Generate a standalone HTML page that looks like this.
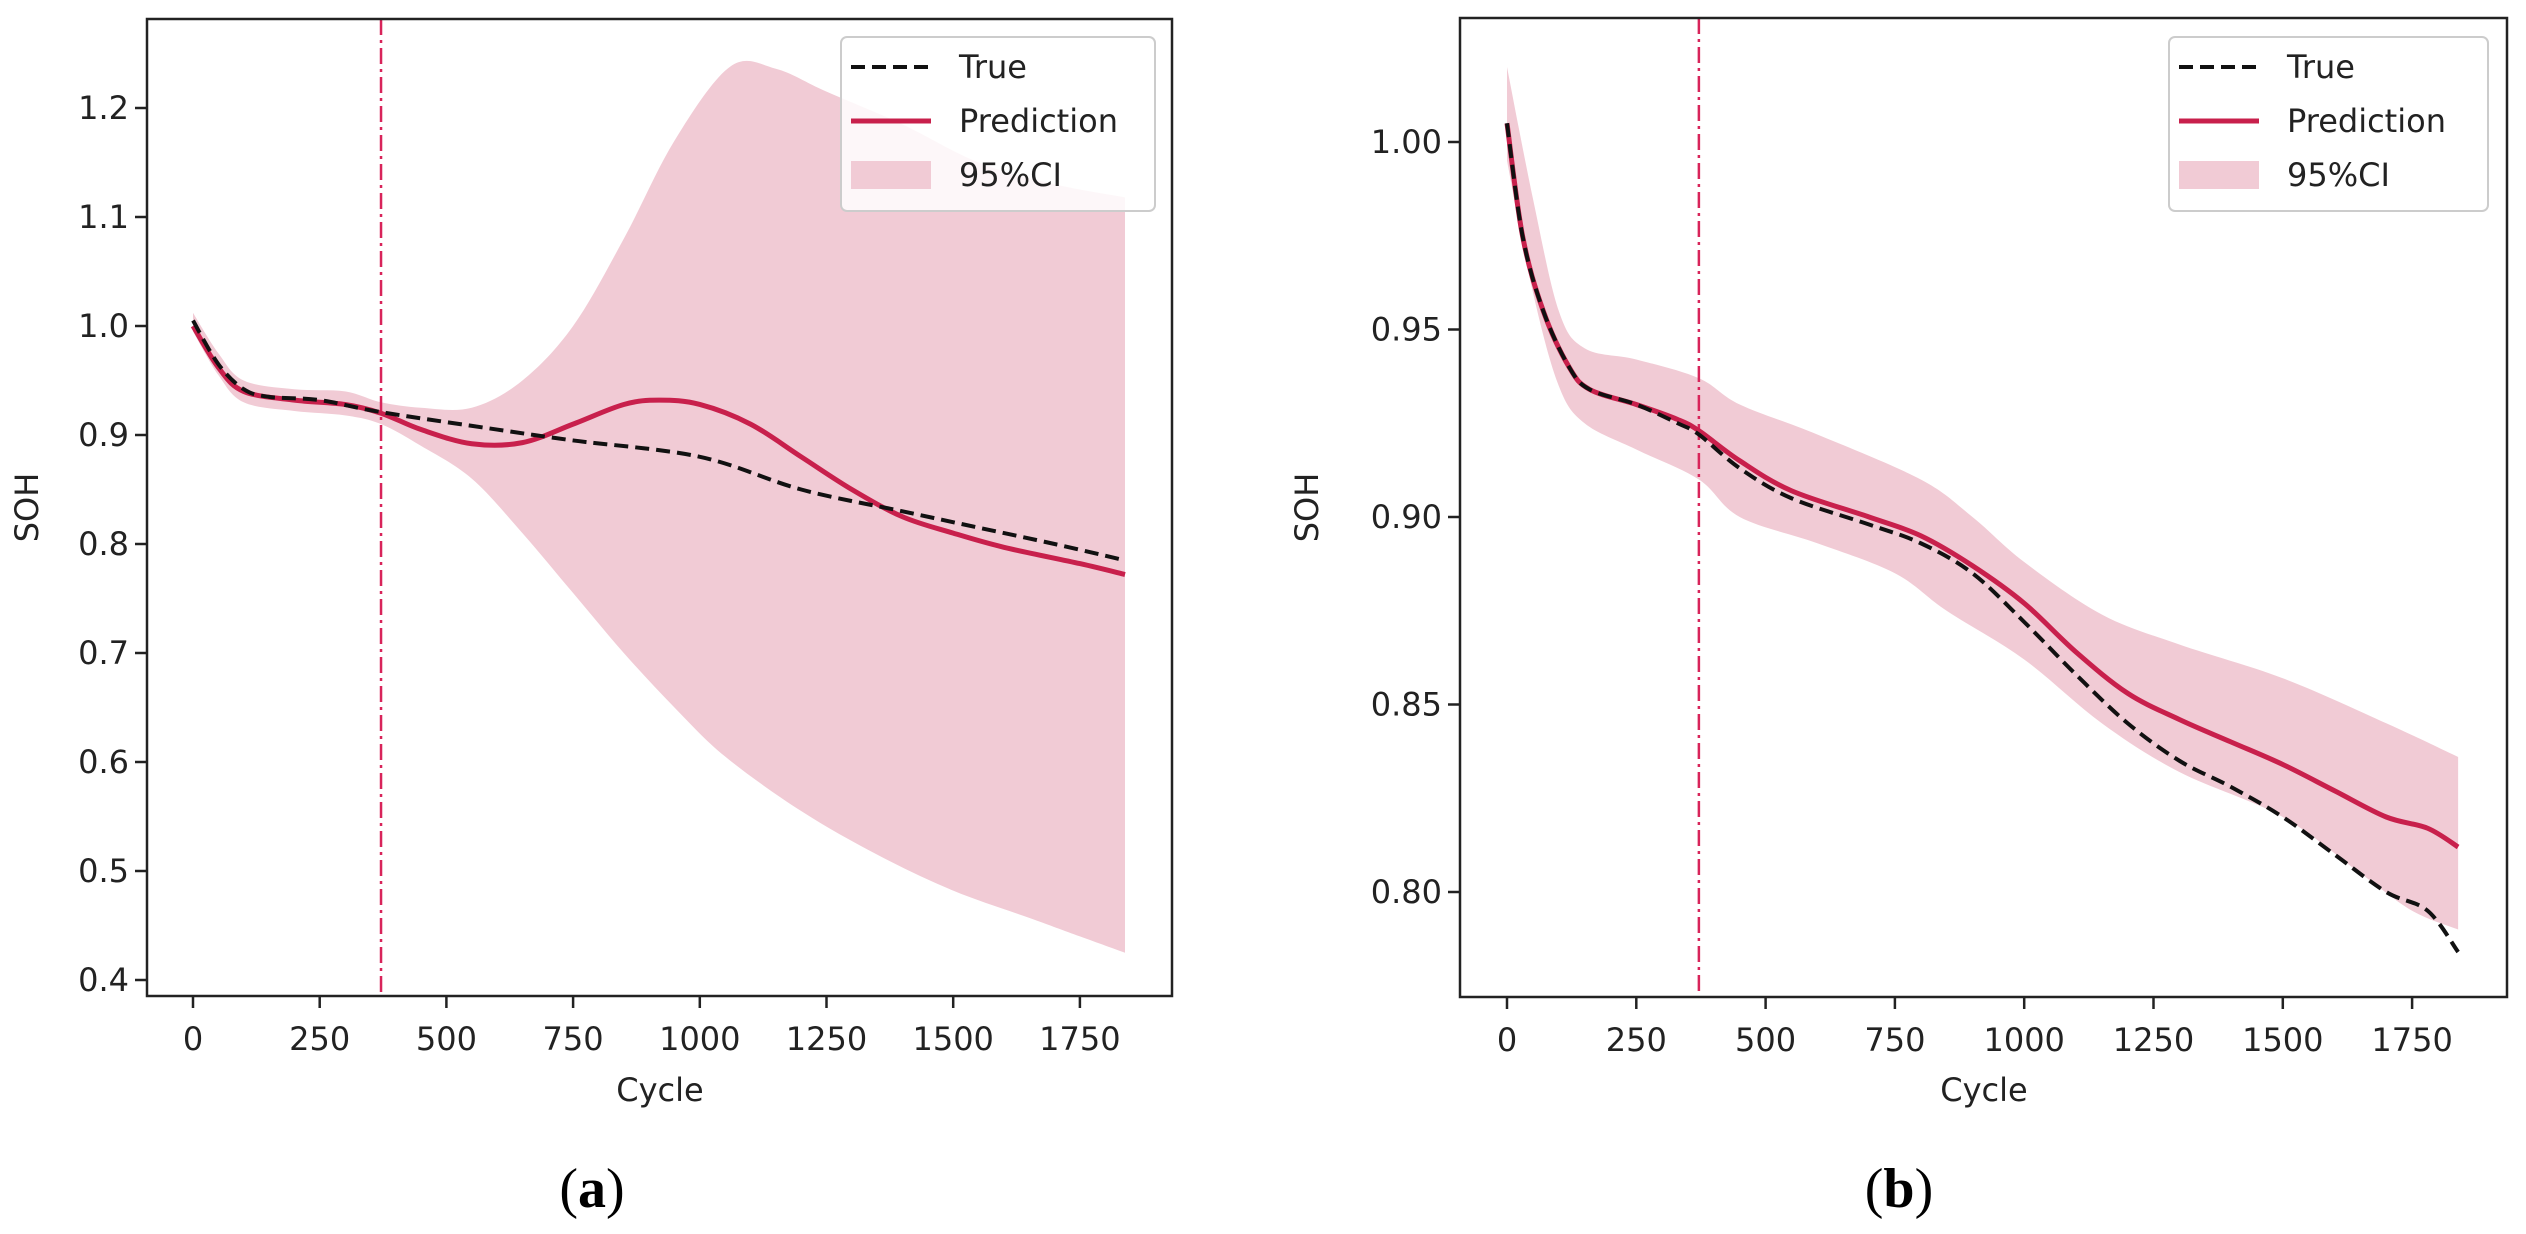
<!DOCTYPE html>
<html><head><meta charset="utf-8"><style>
html,body{margin:0;padding:0;background:#fff;}
svg{display:block;}
text{font-family:"DejaVu Sans","Liberation Sans",sans-serif;fill:#222;}
</style></head><body>
<svg id="fig" width="2526" height="1234" viewBox="0 0 2526 1234" xmlns="http://www.w3.org/2000/svg"></svg>
<script>
// ---- Panel (a) data ----
const xTicks = [0,250,500,750,1000,1250,1500,1750];
const aYTicks = [0.4,0.5,0.6,0.7,0.8,0.9,1.0,1.1,1.2];
const aYLabels = ["0.4","0.5","0.6","0.7","0.8","0.9","1.0","1.1","1.2"];
const aTrueX = [0,50,100,150,250,371,600,750,1000,1200,1400,1550,1700,1839];
const aTrueY = [1.005,0.965,0.942,0.935,0.932,0.921,0.905,0.895,0.88,0.85,0.83,0.815,0.80,0.785];
const aPredX = [0,50,100,200,300,371,450,550,650,750,850,920,1000,1100,1200,1300,1400,1500,1600,1750,1839];
const aPredY = [1.0,0.962,0.94,0.932,0.928,0.92,0.905,0.892,0.893,0.91,0.928,0.932,0.928,0.91,0.88,0.85,0.825,0.81,0.797,0.782,0.772];
const aUpX = [0,50,100,200,300,371,450,550,650,750,850,950,1060,1150,1250,1400,1550,1700,1839];
const aUpY = [1.012,0.975,0.95,0.942,0.94,0.93,0.925,0.925,0.95,1.0,1.08,1.17,1.238,1.236,1.215,1.185,1.15,1.13,1.118];
const aLoX = [0,50,100,200,300,371,450,550,650,750,850,950,1050,1200,1350,1500,1650,1750,1839];
const aLoY = [0.995,0.955,0.93,0.922,0.918,0.91,0.89,0.86,0.81,0.755,0.70,0.65,0.605,0.555,0.515,0.482,0.457,0.44,0.425];
const aVline = 371;
// ---- Panel (b) data ----
const bYTicks = [0.80,0.85,0.90,0.95,1.00];
const bYLabels = ["0.80","0.85","0.90","0.95","1.00"];
const bTrueX = [0,30,70,120,160,250,330,371,450,550,700,800,900,1000,1100,1200,1300,1400,1500,1600,1700,1780,1839];
const bTrueY = [1.005,0.975,0.955,0.94,0.934,0.93,0.925,0.922,0.913,0.905,0.898,0.893,0.885,0.872,0.858,0.845,0.835,0.828,0.82,0.81,0.80,0.795,0.784];
const bPredX = [0,30,70,120,160,250,330,371,450,550,700,800,900,1000,1100,1200,1300,1400,1500,1600,1700,1780,1839];
const bPredY = [1.005,0.975,0.955,0.94,0.934,0.93,0.926,0.923,0.915,0.907,0.90,0.895,0.887,0.877,0.864,0.853,0.846,0.840,0.834,0.827,0.82,0.817,0.812];
const bUpX = [0,50,100,150,250,371,450,600,800,900,1000,1150,1300,1500,1700,1839];
const bUpY = [1.02,0.985,0.955,0.945,0.942,0.937,0.93,0.922,0.91,0.90,0.888,0.874,0.866,0.857,0.845,0.836];
const bLoX = [0,50,100,150,250,371,450,600,750,850,1000,1150,1300,1500,1650,1750,1839];
const bLoY = [0.995,0.96,0.935,0.925,0.918,0.91,0.90,0.893,0.885,0.875,0.862,0.845,0.832,0.82,0.805,0.795,0.79];
const bVline = 371;

const NS="http://www.w3.org/2000/svg";
const svg=document.getElementById('fig');
function mk(tag,attrs,parent){const e=document.createElementNS(NS,tag);for(const k in attrs)e.setAttribute(k,attrs[k]);(parent||svg).appendChild(e);return e;}
function smooth(pts){let d=`M${pts[0][0]},${pts[0][1]}`;for(let i=0;i<pts.length-1;i++){const p0=pts[Math.max(0,i-1)],p1=pts[i],p2=pts[i+1],p3=pts[Math.min(pts.length-1,i+2)];const c1=[p1[0]+(p2[0]-p0[0])/6,p1[1]+(p2[1]-p0[1])/6],c2=[p2[0]-(p3[0]-p1[0])/6,p2[1]-(p3[1]-p1[1])/6];d+=` C${c1[0]},${c1[1]} ${c2[0]},${c2[1]} ${p2[0]},${p2[1]}`;}return d;}
function smoothCont(pts){return smooth(pts).replace(/^M/,'L');}

function panel(o){
  const X=v=>o.x0+v*o.xs, Y=v=>o.y0-(v-o.v0)*o.ys;
  const g=mk('g',{});
  
  
  const up=o.upX.map((x,i)=>[X(x),Y(o.upY[i])]);
  const lo=o.loX.map((x,i)=>[X(x),Y(o.loY[i])]).reverse();
  const band=mk('path',{d:smooth(up)+' '+smoothCont(lo)+' Z',fill:'#f1cbd5',stroke:'none'},g);
  
  
  const vl=mk('line',{x1:X(o.vline),x2:X(o.vline),y1:o.top,y2:o.bot,stroke:'#d8245a','stroke-width':2.5,'stroke-dasharray':'16 5 3 5'},g);
  
  
  const pr=mk('path',{d:smooth(o.predX.map((x,i)=>[X(x),Y(o.predY[i])])),fill:'none',stroke:'#c8204c','stroke-width':5},g);
  
  
  const tr=mk('path',{d:smooth(o.trueX.map((x,i)=>[X(x),Y(o.trueY[i])])),fill:'none',stroke:'#111','stroke-width':4,'stroke-dasharray':'14 7'},g);
  
  
  const fr=mk('rect',{x:o.left,y:o.top,width:o.right-o.left,height:o.bot-o.top,fill:'none',stroke:'#222','stroke-width':2.5},g);
  
  
  xTicks.forEach(t=>{
    mk('line',{x1:X(t),x2:X(t),y1:o.bot,y2:o.bot+12,stroke:'#222','stroke-width':2.5},g);
    const tx=mk('text',{x:X(t),y:o.bot+54,'font-size':32,'text-anchor':'middle'},g);tx.textContent=t;
    
    
  });
  o.yt.forEach((t,i)=>{
    mk('line',{x1:o.left-12,x2:o.left,y1:Y(t),y2:Y(t),stroke:'#222','stroke-width':2.5},g);
    const tx=mk('text',{x:o.left-18,y:Y(t)+11,'font-size':32,'text-anchor':'end'},g);tx.textContent=o.yl[i];
    
    
  });
  const xl=mk('text',{x:o.xlabX,y:1101,'font-size':32,'text-anchor':'middle'},g);xl.textContent='Cycle';
  
  
  const yl=mk('text',{x:0,y:0,'font-size':32,'text-anchor':'middle',transform:`translate(${o.ylabX},${(o.top+o.bot)/2}) rotate(-90)`},g);yl.textContent='SOH';
  
  
  const cap=mk('text',{x:o.capX,y:1207,'font-size':56,'text-anchor':'middle',style:'font-family:"Liberation Serif",serif;fill:#000'},g);
  cap.innerHTML='(<tspan font-weight="bold">'+o.cap+'</tspan>)';
  
  
  const L=o.leg;
  const lg=mk('g',{},g);
  
  
  mk('rect',{x:L,y:37,width:o.legW,height:174,rx:6,fill:'rgba(255,255,255,0.85)',stroke:'#ccc','stroke-width':2},lg);
  mk('line',{x1:L+10,x2:L+90,y1:67,y2:67,stroke:'#111','stroke-width':4,'stroke-dasharray':'14 7'},lg);
  mk('line',{x1:L+10,x2:L+90,y1:121,y2:121,stroke:'#c8204c','stroke-width':5},lg);
  mk('rect',{x:L+10,y:161,width:80,height:28,fill:'#f1cbd5'},lg);
  [['True',78],['Prediction',132],['95%CI',186]].forEach(([s,y])=>{const t=mk('text',{x:L+118,y:y,'font-size':32},lg);t.textContent=s;
    
    });
}
panel({name:'panel-a',x0:193,xs:126.7/250,y0:326,v0:1.0,ys:1090,left:147,right:1172,top:19,bot:996,
  yt:aYTicks,yl:aYLabels,trueX:aTrueX,trueY:aTrueY,predX:aPredX,predY:aPredY,upX:aUpX,upY:aUpY,loX:aLoX,loY:aLoY,vline:aVline,
  xlabX:660,ylabX:38,capX:592,cap:'a',leg:841,legW:314});
panel({name:'panel-b',x0:1507,xs:129.3/250,y0:142,v0:1.0,ys:3750,left:1460,right:2507,top:18,bot:997,
  yt:bYTicks,yl:bYLabels,trueX:bTrueX,trueY:bTrueY,predX:bPredX,predY:bPredY,upX:bUpX,upY:bUpY,loX:bLoX,loY:bLoY,vline:bVline,
  xlabX:1984,ylabX:1318,capX:1899,cap:'b',leg:2169,legW:319});
</script>
</body></html>
